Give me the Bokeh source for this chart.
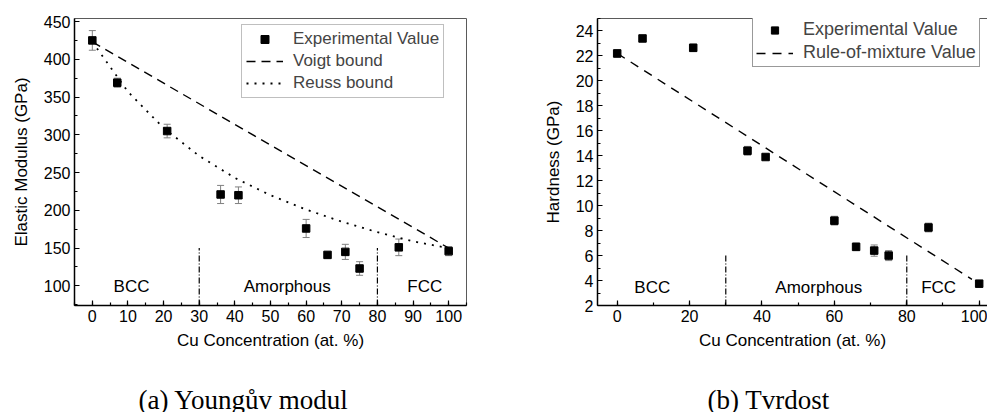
from bokeh.plotting import figure
from bokeh.models import (Range1d, SingleIntervalTicker, LinearAxis, FixedTicker,
                          Whisker, TeeHead, ColumnDataSource, Legend, LegendItem)
from bokeh.layouts import row, column
from bokeh.embed import file_html
from bokeh.resources import INLINE
from bokeh.core.properties import value

# ---------------- data ----------------
cu = [0, 7, 21, 36, 41, 60, 66, 71, 75, 86, 100]
modulus = [425, 369, 305, 221, 220, 176, 141, 145, 123, 151, 146]
modulus_err = [13, 6, 9, 12, 11, 12, 4, 10, 9, 11, 6]
voigt_x = [0, 100]
voigt_y = [423, 150]
reuss_x = [0, 10, 20, 30, 40, 50, 60, 70, 80, 90, 100]
reuss_y = [423, 357, 309, 272, 243, 220, 201, 185, 171, 159, 150]

hardness = [22.2, 23.4, 22.65, 14.4, 13.9, 8.8, 6.7, 6.4, 6.0, 8.25, 3.75]
hardness_err = [0.3, 0.2, 0.3, 0.35, 0.2, 0.35, 0.3, 0.45, 0.4, 0.35, 0.15]
rom_x = [0, 98]
rom_y = [22.2, 4.1]

phase_bounds = [30, 80]
phase_names = ["BCC", "Amorphous", "FCC"]
phase_label_x = [11, 54.7, 93.3]
phase_label_x_h = [9.7, 55.7, 88.8]

captions = ["(a) Youngův modul", "(b) Tvrdost"]

FONT = "Liberation Sans"
SERIF = "Liberation Serif"


def style(p):
    p.grid.visible = False
    p.background_fill_color = "white"
    p.border_fill_color = "white"
    for ax in p.axis:
        ax.axis_line_color = "black"
        ax.axis_line_width = 1.5
        ax.major_tick_in = 5
        ax.major_tick_out = 0
        ax.minor_tick_in = 3
        ax.minor_tick_out = 0
        ax.major_tick_line_color = "black"
        ax.minor_tick_line_color = "black"
        ax.major_tick_line_width = 1.2
        ax.minor_tick_line_width = 1.2
        ax.major_label_text_font = FONT
        ax.major_label_text_font_size = "16px"
        ax.major_label_text_color = "black"
        ax.axis_label_text_font = FONT
        ax.axis_label_text_font_size = "17px"
        ax.axis_label_text_font_style = "normal"
        ax.axis_label_text_color = "black"
        ax.major_label_standoff = 4
        ax.axis_label_standoff = 6


def caption_fig(width, text, left):
    c = figure(width=width, height=30, x_range=Range1d(0, width), y_range=Range1d(0, 30),
               output_backend="svg", toolbar_location=None,
               x_axis_location=None, y_axis_location=None,
               min_border=0, min_border_left=0, min_border_right=0,
               min_border_top=0, min_border_bottom=0)
    c.outline_line_color = None
    c.grid.visible = False
    c.text(x=[left], y=[13], text=[text], text_align="left", text_baseline="alphabetic",
           text_font=value(SERIF), text_font_size="27px", text_color="black")
    return c


# ---------------- left panel ----------------
p1 = figure(width=530, height=382, x_range=Range1d(-5, 105), y_range=Range1d(74, 454),
            output_backend="svg", toolbar_location=None,
            min_border_left=74, min_border_right=64, min_border_top=18, min_border_bottom=77)
p1.outline_line_color = "#5a5a5a"
p1.outline_line_width = 1
p1.xaxis[0].ticker = SingleIntervalTicker(interval=10, num_minor_ticks=2)
p1.yaxis[0].ticker = SingleIntervalTicker(interval=50, num_minor_ticks=2)
p1.xaxis[0].axis_label = "Cu Concentration (at. %)"
p1.yaxis[0].axis_label = "Elastic Modulus (GPa)"
style(p1)
p1.yaxis[0].axis_label_standoff = 10

src1 = ColumnDataSource(dict(x=cu, y=modulus,
                             lo=[v - e for v, e in zip(modulus, modulus_err)],
                             hi=[v + e for v, e in zip(modulus, modulus_err)]))
p1.segment(x0=phase_bounds, x1=phase_bounds, y0=[74, 74], y1=[150, 150],
           line_color="black", line_width=1.2, line_dash="6 2 1 2")
p1.text(x=phase_label_x, y=[99, 99, 99], text=phase_names, text_align="center",
        text_baseline="middle", text_font=value(FONT), text_font_size="17px", text_color="black")
r_voigt = p1.line(voigt_x, voigt_y, line_color="black", line_width=1.4, line_dash="9 6")
r_reuss = p1.line(reuss_x, reuss_y, line_color="black", line_width=1.8, line_dash="2 6")
w1 = Whisker(source=src1, base="x", lower="lo", upper="hi", line_color="#808080", line_width=1,
             upper_head=TeeHead(size=7, line_color="#808080"),
             lower_head=TeeHead(size=7, line_color="#808080"))
p1.add_layout(w1)
r_exp1 = p1.scatter("x", "y", source=src1, marker="square", size=7.5, color="black")

leg1 = Legend(items=[LegendItem(label="Experimental Value", renderers=[r_exp1]),
                     LegendItem(label="Voigt bound", renderers=[r_voigt]),
                     LegendItem(label="Reuss bound", renderers=[r_reuss])],
              location=(167, 207), margin=0, padding=4, spacing=2,
              glyph_width=37, glyph_height=20, label_height=20, label_standoff=10,
              label_text_font=FONT, label_text_font_size="17px",
              border_line_color="#808080", border_line_width=1,
              background_fill_color="white", background_fill_alpha=1)
p1.add_layout(leg1)

# ---------------- right panel ----------------
p2 = figure(width=457, height=382, x_range=Range1d(-5.44, 102.3), y_range=Range1d(2, 25),
            output_backend="svg", toolbar_location=None,
            min_border_left=67, min_border_right=0, min_border_top=15, min_border_bottom=74)
p2.outline_line_color = None
p2.xaxis[0].ticker = SingleIntervalTicker(interval=20, num_minor_ticks=2)
p2.yaxis[0].ticker = SingleIntervalTicker(interval=2, num_minor_ticks=2)
p2.xaxis[0].axis_label = "Cu Concentration (at. %)"
p2.yaxis[0].axis_label = "Hardness (GPa)"
top_axis = LinearAxis(ticker=FixedTicker(ticks=[]), axis_label=None)
p2.add_layout(top_axis, "above")
style(p2)
p2.yaxis[0].axis_label_standoff = 10
top_axis.axis_line_color = "#5a5a5a"
top_axis.axis_line_width = 1
top_axis.major_label_text_font_size = "0px"
top_axis.major_label_standoff = 0
top_axis.major_tick_in = 0
top_axis.minor_tick_in = 0

src2 = ColumnDataSource(dict(x=cu, y=hardness,
                             lo=[v - e for v, e in zip(hardness, hardness_err)],
                             hi=[v + e for v, e in zip(hardness, hardness_err)]))
p2.segment(x0=phase_bounds, x1=phase_bounds, y0=[2, 2], y1=[6, 6],
           line_color="black", line_width=1.2, line_dash="6 2 1 2")
p2.text(x=phase_label_x_h, y=[3.43, 3.43, 3.43], text=phase_names, text_align="center",
        text_baseline="middle", text_font=value(FONT), text_font_size="17px", text_color="black")
r_rom = p2.line(rom_x, rom_y, line_color="black", line_width=1.4, line_dash="9 7")
w2 = Whisker(source=src2, base="x", lower="lo", upper="hi", line_color="#808080", line_width=1,
             upper_head=TeeHead(size=7, line_color="#808080"),
             lower_head=TeeHead(size=7, line_color="#808080"))
p2.add_layout(w2)
r_exp2 = p2.scatter("x", "y", source=src2, marker="square", size=7.5, color="black")

leg2 = Legend(items=[LegendItem(label="Experimental Value", renderers=[r_exp2]),
                     LegendItem(label="Rule-of-mixture Value", renderers=[r_rom])],
              location=(155, 238), margin=0, padding=3, spacing=2,
              glyph_width=37, glyph_height=18, label_height=18, label_standoff=10,
              label_text_font=FONT, label_text_font_size="18px",
              border_line_color="#333333", border_line_width=1,
              background_fill_color="white", background_fill_alpha=1)
p2.add_layout(leg2)

# ---------------- captions ----------------
c1 = caption_fig(530, captions[0], 138)
c2 = caption_fig(457, captions[1], 177)

layout = column(row(p1, p2, spacing=0), row(c1, c2, spacing=0), spacing=0)
open("out.html", "w").write(file_html(layout, INLINE))
